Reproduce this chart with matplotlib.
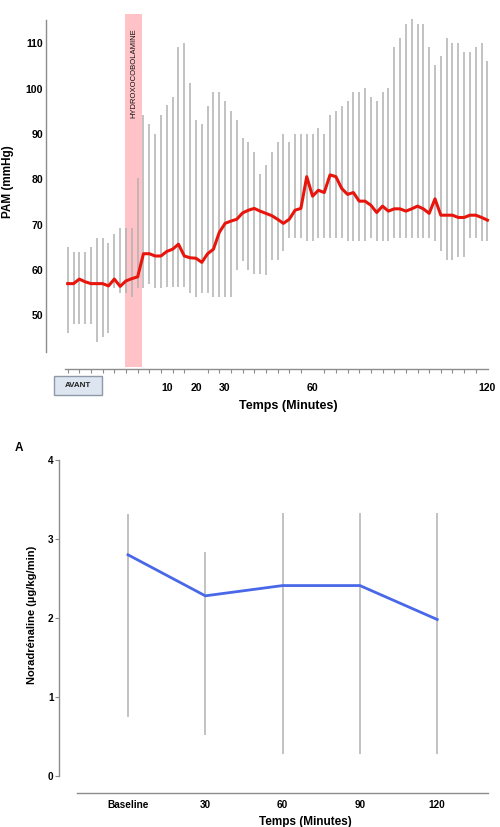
import numpy as np
import matplotlib
matplotlib.use('Agg')
import matplotlib.pyplot as plt
from matplotlib.patches import Rectangle
from matplotlib.ticker import FixedLocator, NullFormatter

plt.rcParams['font.family'] = ['Liberation Sans', 'DejaVu Sans']
plt.rcParams['font.weight'] = 'bold'

# ---------------- data: PAM (top chart) ----------------
pam_times = list(range(-24, 121, 2))   # minutes, one sample every 2 minutes
pam_mean = [57.0, 57.0, 58.0, 57.4, 57.0, 57.0, 57.0, 56.5, 58.0, 56.4,
            57.6, 58.1, 58.5, 63.6, 63.6, 63.1, 63.1, 64.1, 64.6, 65.7,
            63.1, 62.7, 62.6, 61.7, 63.6, 64.6, 68.3, 70.3, 70.8, 71.2,
            72.6, 73.2, 73.6, 73.0, 72.5, 72.0, 71.2, 70.3, 71.2, 73.2,
            73.6, 80.6, 76.3, 77.6, 77.1, 81.0, 80.6, 78.0, 76.7, 77.1,
            75.2, 75.2, 74.3, 72.7, 74.1, 73.0, 73.5, 73.5, 73.0, 73.5,
            74.1, 73.5, 72.5, 75.7, 72.1, 72.1, 72.1, 71.6, 71.6, 72.1,
            72.1, 71.6, 71.0]
pam_low = [46.0, 48.0, 48.0, 48.0, 48.0, 44.2, 45.3, 46.2, 56.0, 55.0,
           55.0, 54.1, 56.0, 56.0, 57.0, 56.0, 56.0, 56.3, 56.3, 56.3,
           56.3, 55.0, 54.1, 55.0, 55.0, 54.1, 54.1, 54.1, 54.1, 60.1,
           62.1, 60.0, 59.1, 59.1, 59.0, 62.2, 62.2, 64.3, 67.1, 67.1,
           67.1, 66.3, 66.3, 67.1, 67.1, 67.1, 67.1, 67.1, 66.3, 66.3,
           66.3, 66.3, 67.1, 66.3, 66.3, 66.3, 67.1, 67.1, 67.1, 67.1,
           67.1, 67.1, 67.1, 66.3, 64.3, 62.2, 62.2, 62.9, 62.9, 67.1,
           67.1, 66.3, 66.3]
pam_high = [65.0, 64.0, 64.0, 64.0, 65.0, 67.0, 67.0, 66.0, 68.0, 69.2,
            69.2, 69.2, 80.2, 94.2, 92.2, 90.1, 94.2, 96.5, 98.2, 109.3,
            110.2, 101.2, 93.2, 92.2, 96.2, 99.2, 99.2, 97.2, 95.2, 93.2,
            89.2, 88.2, 86.1, 81.2, 83.2, 86.1, 88.2, 90.1, 88.2, 90.1,
            90.1, 90.1, 90.1, 91.3, 90.1, 94.2, 95.1, 96.2, 97.2, 99.2,
            99.2, 100.1, 98.1, 97.2, 99.2, 100.1, 109.3, 111.3, 114.2, 115.3,
            114.2, 114.2, 109.3, 105.2, 107.2, 111.3, 110.2, 110.2, 108.2, 108.2,
            109.3, 110.2, 106.2]
pam_xtick_values = [10, 20, 30, 60, 120]
pam_xtick_labels = ['10', '20', '30', '60', '120']
pam_yticks = [50, 60, 70, 80, 90, 100, 110]
infusion_window = (-4.3, 1.5)
infusion_label = 'HYDROXOCOBOLAMINE'

# ---------------- data: Noradrénaline (bottom chart) ----------------
nor_labels = ['Baseline', '30', '60', '90', '120']
nor_mean = [2.80, 2.28, 2.41, 2.41, 1.98]
nor_low = [0.74, 0.52, 0.28, 0.28, 0.28]
nor_high = [3.32, 2.83, 3.33, 3.33, 3.33]
nor_yticks = [0, 1, 2, 3, 4]

axis_gray = '#8c8c8c'
whisker_gray = '#b2b2b2'

fig = plt.figure(figsize=(5, 8.27), dpi=100)

# ================= TOP CHART =================
ax1 = fig.add_axes([0.092, 0.5538, 0.888, 0.4293])
ax1.set_xlim(-31.44, 120.87)
ax1.set_ylim(38.16, 116.5)

ax1.add_patch(Rectangle((infusion_window[0], 38.7),
                        infusion_window[1] - infusion_window[0], 116.5 - 38.7,
                        facecolor='#ffc3c7', edgecolor='none', zorder=1))
ax1.vlines(pam_times, pam_low, pam_high, color=whisker_gray, lw=1.1, zorder=2)
ax1.plot(pam_times, pam_mean, color='#e8150c', lw=2.2, zorder=3,
         solid_joinstyle='round')
ax1.text(sum(infusion_window) / 2, 103.5, infusion_label, rotation=90,
         ha='center', va='center', fontsize=5.5, fontweight='normal',
         color='#111111', zorder=4)

for s in ['top', 'right']:
    ax1.spines[s].set_visible(False)
ax1.spines['left'].set_bounds(41.9, 115.2)
ax1.spines['bottom'].set_bounds(-25, 120.2)
for s in ['left', 'bottom']:
    ax1.spines[s].set_color(axis_gray)
    ax1.spines[s].set_linewidth(1.0)

ax1.set_yticks(pam_yticks)
ax1.set_yticklabels([str(v) for v in pam_yticks])
ax1.tick_params(axis='y', length=0, pad=2, labelsize=7.6)
ax1.set_xticks(pam_xtick_values)
ax1.set_xticklabels(pam_xtick_labels)
ax1.xaxis.set_minor_locator(FixedLocator(pam_times[::2]))
ax1.xaxis.set_minor_formatter(NullFormatter())
ax1.tick_params(axis='x', which='major', length=0, pad=10, labelsize=7.6)
ax1.tick_params(axis='x', which='minor', length=3, width=0.8,
                color=axis_gray, direction='out')
for lbl in ax1.get_xticklabels() + ax1.get_yticklabels():
    lbl.set_fontweight('bold')

ax1.set_ylabel('PAM (mmHg)', fontsize=8.5, fontweight='bold')
ax1.yaxis.set_label_coords(-0.073, 0.527)
ax1.set_xlabel('Temps (Minutes)', fontsize=9, fontweight='bold', va='center')
ax1.xaxis.set_label_coords(0.545, -0.104)

# AVANT box
fig.patches.append(Rectangle((54.3 / 500, 1 - 395 / 827), 47.4 / 500, 19 / 827,
                             transform=fig.transFigure, facecolor='#dde5f1',
                             edgecolor='#8e99a8', lw=1.0))
fig.text(78 / 500, 1 - 385.5 / 827, 'AVANT', ha='center', va='center',
         fontsize=5.8, fontweight='bold', color='#222222')

# ================= BOTTOM CHART =================
ax2 = fig.add_axes([0.118, 0.0415, 0.862, 0.4069])
xpos = np.arange(len(nor_labels))
ax2.set_xlim(-0.893, 4.683)
ax2.set_ylim(-0.215, 4.05)
ax2.vlines(xpos, nor_low, nor_high, color=whisker_gray, lw=1.1, zorder=2)
ax2.plot(xpos, nor_mean, color='#4868e8', lw=2.0, zorder=3)

for s in ['top', 'right']:
    ax2.spines[s].set_visible(False)
ax2.spines['left'].set_bounds(0, 4)
ax2.spines['bottom'].set_bounds(-0.66, 4.657)
for s in ['left', 'bottom']:
    ax2.spines[s].set_color(axis_gray)
    ax2.spines[s].set_linewidth(1.0)

ax2.set_yticks(nor_yticks)
ax2.set_yticklabels([str(v) for v in nor_yticks])
ax2.tick_params(axis='y', length=3, width=0.8, color=axis_gray, pad=1,
                labelsize=7.2)
ax2.set_xticks(xpos)
ax2.set_xticklabels(nor_labels)
ax2.tick_params(axis='x', length=0, pad=5, labelsize=7.2)
for lbl in ax2.get_xticklabels() + ax2.get_yticklabels():
    lbl.set_fontweight('bold')

ax2.set_ylabel('Noradrénaline (µg/kg/min)', fontsize=8, fontweight='bold')
ax2.yaxis.set_label_coords(-0.051, 0.528)
ax2.set_xlabel('Temps (Minutes)', fontsize=8.5, fontweight='bold', va='center')
ax2.xaxis.set_label_coords(0.571, -0.087)

fig.text(19 / 500, 1 - 448 / 827, 'A', ha='center', va='center',
         fontsize=8.5, fontweight='bold')

fig.savefig('out.png', dpi=100)
